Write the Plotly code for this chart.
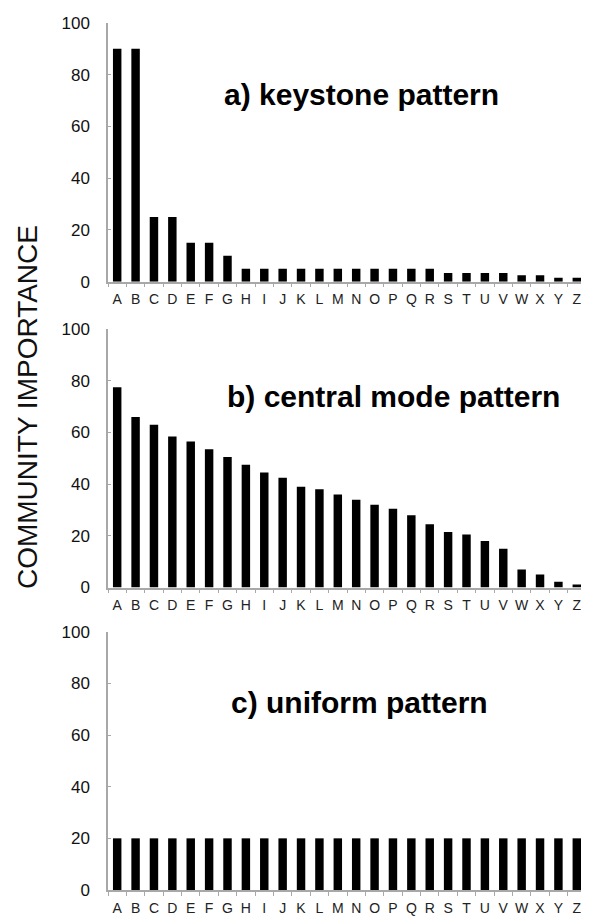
import plotly.graph_objects as go
from plotly.subplots import make_subplots

# Data
species = list("ABCDEFGHIJKLMNOPQRSTUVWXYZ")

keystone = [90, 90, 25, 25, 15, 15, 10, 5, 5, 5, 5, 5, 5, 5, 5, 5, 5, 5,
            3.3, 3.3, 3.3, 3.3, 2.5, 2.5, 1.5, 1.5]
central_mode = [77.5, 66, 63, 58.5, 56.5, 53.5, 50.5, 47.5, 44.5, 42.5, 39, 38, 36,
                34, 32, 30.5, 28, 24.5, 21.5, 20.5, 18, 15, 7, 5, 2.2, 1.2]
uniform = [20, 20, 20, 20, 20, 20, 20, 20, 20, 20, 20, 20, 20,
           20, 20, 20, 20, 20, 20, 20, 20, 20, 20, 20, 20, 20]

panel_titles = ["a) keystone pattern", "b) central mode pattern", "c) uniform pattern"]
y_ticks = [0, 20, 40, 60, 80, 100]

FONT = "Liberation Sans, Arial, Helvetica, sans-serif"
AXIS_GREY = "#a8a8a8"


def style_axes(fig, row):
    """ Excel-like axes: grey lines, short ticks, no grid. """
    fig.update_xaxes(
        row=row, col=1,
        showline=True, linecolor=AXIS_GREY, linewidth=1.5,
        ticks="outside", tickson="boundaries", ticklen=4, tickcolor=AXIS_GREY,
        showgrid=False, zeroline=False, tickangle=0,
        tickfont=dict(size=14, color="#222", family=FONT),
        ticklabelstandoff=4, ticklabeloverflow="allow",
        range=[-0.5, 25.5],
    )
    fig.update_yaxes(
        row=row, col=1,
        showline=True, linecolor=AXIS_GREY, linewidth=1.5,
        ticks="inside", ticklen=3, tickcolor=AXIS_GREY,
        showgrid=False, zeroline=False,
        tickvals=y_ticks, range=[0, 100],
        tickfont=dict(size=17, color="#111", family=FONT),
        ticklabelstandoff=13,
    )


fig = make_subplots(rows=3, cols=1, vertical_spacing=0.05)

for i, values in enumerate([keystone, central_mode, uniform]):
    fig.add_trace(
        go.Bar(x=species, y=values, marker=dict(color="black", line_width=0), showlegend=False),
        row=i + 1, col=1,
    )
    style_axes(fig, i + 1)

fig.update_layout(
    yaxis=dict(domain=[0.7017, 1.0]),
    yaxis2=dict(domain=[0.3489, 0.6468]),
    yaxis3=dict(domain=[0.0, 0.2979]),
)

title_pos = [(0.238, 72.3), (0.245, 74.0), (0.254, 72.6)]
for i, (txt, (tx, ty)) in enumerate(zip(panel_titles, title_pos)):
    fig.add_annotation(
        text=f"<b>{txt}</b>",
        xref=f"x{i + 1 if i else ''} domain", yref=f"y{i + 1 if i else ''}",
        x=tx, y=ty, xanchor="left", yanchor="middle",
        showarrow=False, font=dict(size=30, color="black", family=FONT),
    )

fig.add_annotation(
    text="COMMUNITY IMPORTANCE",
    xref="paper", yref="paper", x=-0.1695, y=0.557,
    xanchor="center", yanchor="middle", textangle=-90,
    showarrow=False, font=dict(size=28, color="#111", family=FONT),
)

# the page body adds an 8px margin, so the figure is 8px smaller each way
fig.update_layout(
    width=581, height=911,
    margin=dict(l=100, r=3, t=15, b=27),
    paper_bgcolor="white", plot_bgcolor="white",
    bargap=0.54,
    font=dict(family=FONT, color="black"),
)

fig.write_html("out.html")
